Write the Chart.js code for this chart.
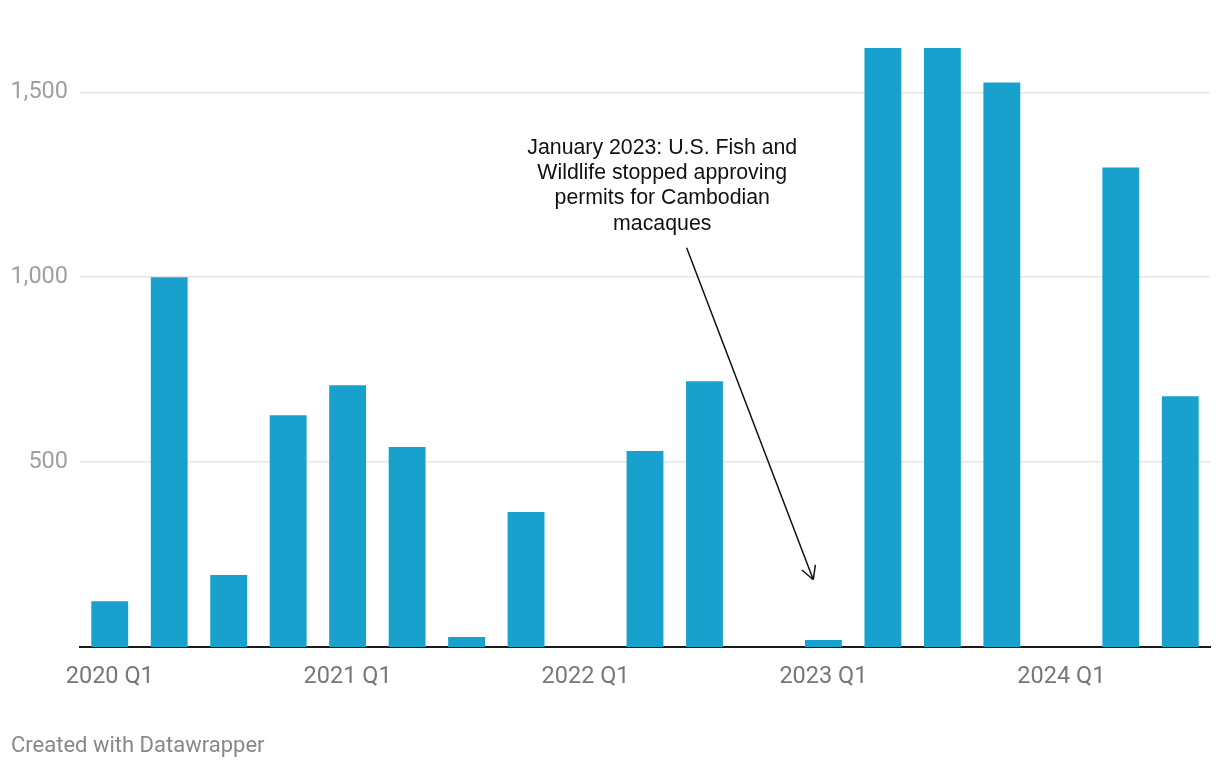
<!DOCTYPE html>
<html>
<head>
<meta charset="utf-8">
<script src="https://cdn.jsdelivr.net/npm/chart.js@4.4.1/dist/chart.umd.min.js"></script>
<style>
  html, body { margin: 0; padding: 0; background: #fff; }
  #wrap { position: relative; width: 1220px; height: 770px; }
  #footer { position: absolute; left: 11px; top: 732px; font: 22px Roboto, sans-serif; color: #888; }
</style>
</head>
<body>
<div id="wrap">
  <canvas id="myChart" width="1220" height="770"></canvas>
  <div id="footer">Created with Datawrapper</div>
</div>
<script>
const quarters = ["2020 Q1", "2020 Q2", "2020 Q3", "2020 Q4",
    "2021 Q1", "2021 Q2", "2021 Q3", "2021 Q4",
    "2022 Q1", "2022 Q2", "2022 Q3", "2022 Q4",
    "2023 Q1", "2023 Q2", "2023 Q3", "2023 Q4",
    "2024 Q1", "2024 Q2", "2024 Q3"]
const imports = [124, 1000, 195, 627, 708, 541, 27, 365, 0, 530, 719, 0, 19, 1620, 1620, 1527, 0, 1297, 678]
const yTicks = [500, 1000, 1500]
const noteLines = ["January 2023: U.S. Fish and", "Wildlife stopped approving", "permits for Cambodian", "macaques"]

// annotation text and arrow, placed with the chart scales
const notePlugin = {
    id: 'note',
    afterDatasetsDraw(chart) {
        const c = chart.ctx, x = chart.scales.x, y = chart.scales.y
        c.save()
        c.fillStyle = '#111'
        c.font = '21.3px "Liberation Sans", Arial, sans-serif'
        c.textAlign = 'center'
        c.textBaseline = 'middle'
        const tx = x.getPixelForValue(9.29)
        noteLines.forEach((t, i) => c.fillText(t, tx, y.getPixelForValue(1349 - i * 68)))
        const x0 = x.getPixelForValue(9.7), y0 = y.getPixelForValue(1080)
        const x1 = x.getPixelForValue(11.83), y1 = y.getPixelForValue(182)
        c.strokeStyle = '#111'
        c.lineWidth = 1.5
        c.beginPath()
        c.moveTo(x0, y0)
        c.lineTo(x1, y1)
        const a = Math.atan2(y1 - y0, x1 - x0)
        for (const d of [-0.5, 0.5]) {
            c.moveTo(x1, y1)
            c.lineTo(x1 - 15 * Math.cos(a + d), y1 - 15 * Math.sin(a + d))
        }
        c.stroke()
        c.restore()
    }
}

const ctx = document.getElementById('myChart').getContext('2d')

var chartImports = new Chart(ctx, {
    type: 'bar',
    data: {
        labels: quarters,
        datasets: [{
            data: imports,
            backgroundColor: '#19a1cd',
            barPercentage: 0.62,
            categoryPercentage: 1
        }]
    },
    options: {
        responsive: false,
        animation: false,
        layout: { padding: { top: 48, right: 10 } },
        plugins: { legend: { display: false }, tooltip: { enabled: false } },
        scales: {
            x: {
                grid: { display: false },
                border: { color: '#1a1a1a', width: 2 },
                afterFit: s => { s.height = 123 },
                ticks: {
                    autoSkip: false,
                    maxRotation: 0,
                    padding: 8,
                    color: '#777',
                    font: { family: 'Roboto', size: 23.5 },
                    callback: (v, i) => i % 4 == 0 ? quarters[i] : ''
                }
            },
            y: {
                min: 0,
                max: 1620,
                afterBuildTicks: s => { s.ticks = yTicks.map(v => ({ value: v })) },
                afterFit: s => { s.width = 80 },
                border: { display: false },
                grid: { color: '#e6e6e6', lineWidth: 1.5, drawTicks: false },
                ticks: {
                    padding: 12,
                    color: '#a0a0a0',
                    font: { family: 'Roboto', size: 23.5 },
                    callback: v => v.toLocaleString('en-US')
                }
            }
        }
    },
    plugins: [notePlugin]
})
</script>
</body>
</html>
